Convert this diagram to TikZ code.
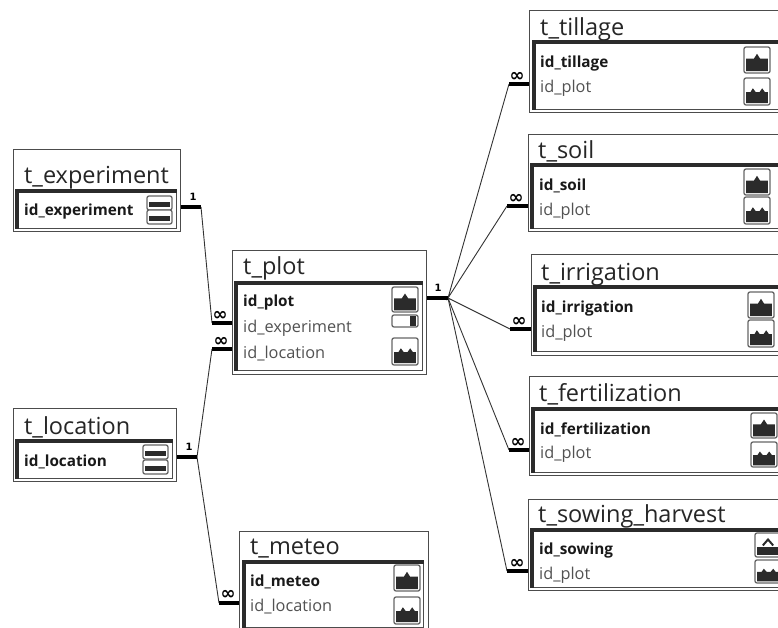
\documentclass[tikz,border=0pt]{standalone}
\usepackage{fontspec}
\setmainfont{Open Sans}
\newfontfamily\symfont{DejaVu Sans}
\definecolor{frame}{gray}{0.3}
\definecolor{panelthick}{gray}{0.17}
\definecolor{iconfill}{gray}{0.17}
\tikzset{
  outerbox/.style={draw=frame,line width=1.3pt,fill=white,anchor=north west,inner sep=0pt},
  panelbox/.style={draw=frame,line width=1pt,fill=white,anchor=north west,inner sep=0pt},
  panelshade/.style={draw=panelthick,line width=3.2pt,line cap=butt},
  titletext/.style={anchor=west,inner sep=0pt,yshift=-2.5pt,font=\fontsize{23.5}{25}\selectfont,text=black!85},
  keytext/.style={anchor=west,inner sep=0pt,yshift=-2pt,font=\fontsize{15.3}{17}\selectfont\bfseries,text=black!90},
  fieldtext/.style={anchor=west,inner sep=0pt,yshift=-1.5pt,font=\fontsize{16.3}{18}\selectfont,text=black!68},
  iconframe/.style={draw=black!60,line width=1.3pt,rounded corners=2pt,fill=white},
  iconmass/.style={fill=iconfill,draw=none},
  thin link/.style={draw=black!80,line width=0.9pt},
  thick link/.style={draw=black,line width=3.4pt,line cap=butt},
  onelabel/.style={inner sep=0pt,font=\symfont\fontsize{10}{10}\selectfont\bfseries},
  manylabel/.style={inner sep=0pt,yshift=-2pt,font=\symfont\fontsize{18}{18}\selectfont\bfseries},
}
\newcommand{\tablebox}[9]{%
  \node[outerbox,minimum width=#4pt,minimum height=#5pt] (#1) at (#2,#3) {};
  \node[panelbox,minimum width=#8pt,minimum height=#9pt] (#1p) at (#6,#7) {};
  \draw[panelshade] (#1p.south west) -- (#1p.north west) -- (#1p.north east);
}
\newcommand{\tabletitle}[4]{\node[titletext] (#1t) at (#2,#3) {#4};}
\newcommand{\rowtext}[5]{\node[#1] (#2) at (#3,#4) {#5};}
\newcommand{\iconone}[4]{\begin{scope}[shift={(#1,#2)},x=#3pt,y=-#4pt]
  \draw[iconframe] (0,0) rectangle (1,1);
  \fill[iconmass] (.08,.93) -- (.08,.45) -- (.38,.45) -- (.5,.26) -- (.62,.45) -- (.92,.45) -- (.92,.93) -- cycle;
\end{scope}}
\newcommand{\icontwo}[4]{\begin{scope}[shift={(#1,#2)},x=#3pt,y=-#4pt]
  \draw[iconframe] (0,0) rectangle (1,1);
  \fill[iconmass] (.08,.93) -- (.08,.52) -- (.25,.52) -- (.34,.38) -- (.45,.52) -- (.6,.52) -- (.7,.38) -- (.8,.52) -- (.92,.52) -- (.92,.93) -- cycle;
\end{scope}}
\newcommand{\iconhat}[4]{\begin{scope}[shift={(#1,#2)},x=#3pt,y=-#4pt]
  \draw[iconframe] (0,0) rectangle (1,1);
  \draw[draw=iconfill,line width=2pt] (.3,.52) -- (.5,.27) -- (.7,.52);
  \fill[iconmass] (.08,.93) -- (.08,.6) -- (.92,.6) -- (.92,.93) -- cycle;
\end{scope}}
\newcommand{\iconflat}[4]{\begin{scope}[shift={(#1,#2)},x=#3pt,y=-#4pt]
  \draw[iconframe] (0,0) rectangle (1,1);
  \fill[iconmass] (.08,.82) -- (.08,.45) -- (.92,.45) -- (.92,.82) -- cycle;
\end{scope}}
\newcommand{\iconbar}[4]{\begin{scope}[shift={(#1,#2)},x=#3pt,y=-#4pt]
  \draw[iconframe] (0,0) rectangle (1,1);
  \fill[iconmass] (.7,.1) rectangle (.93,.9);
\end{scope}}
\begin{document}
\begin{tikzpicture}[x=1pt,y=-1pt]
\useasboundingbox (0,0) rectangle (778,628);
\fill[white] (0,0) rectangle (778,628);

\coordinate (jexp) at (201,207);
\coordinate (jexpm) at (212,323);
\coordinate (jlocm) at (212,349);
\coordinate (jloc) at (197,457);
\coordinate (jmet) at (219,603);
\coordinate (jplot) at (448,298);
\coordinate (jtil) at (509,84);
\coordinate (jsoi) at (507,206);
\coordinate (jirr) at (510,329);
\coordinate (jfer) at (509,450);
\coordinate (jsow) at (507,571);

\tablebox{exp}{13}{149}{167}{82}{17}{191}{159}{37}
\tablebox{plot}{232}{250}{194}{124}{236}{283}{186}{87}
\tablebox{til}{529}{10}{260}{102}{534}{42}{250}{67}
\tablebox{soi}{528}{134}{260}{97}{532}{165}{250}{63}
\tablebox{irr}{531}{254}{260}{101}{535}{287}{250}{64}
\tablebox{fer}{529}{376}{260}{99}{533}{409}{250}{63}
\tablebox{sow}{528}{499}{260}{91}{532}{530}{250}{57}
\tablebox{loc}{13}{408}{163}{73}{17}{441}{155}{37}
\tablebox{met}{239}{531}{189}{110}{244}{562}{179}{65}

\tabletitle{exp}{24}{175}{t\_experiment}
\tabletitle{plot}{243}{266}{t\_plot}
\tabletitle{til}{540}{27}{t\_tillage}
\tabletitle{soi}{538}{149}{t\_soil}
\tabletitle{irr}{541}{272}{t\_irrigation}
\tabletitle{fer}{539}{392}{t\_fertilization}
\tabletitle{sow}{538}{514}{t\_sowing\_harvest}
\tabletitle{loc}{24}{425}{t\_location}
\tabletitle{met}{250}{546}{t\_meteo}

\rowtext{keytext}{expa}{24}{210}{id\_experiment}
\rowtext{keytext}{ploa}{243}{301}{id\_plot}
\rowtext{fieldtext}{plob}{243}{327}{id\_experiment}
\rowtext{fieldtext}{ploc}{243}{352}{id\_location}
\rowtext{keytext}{tila}{540}{62}{id\_tillage}
\rowtext{fieldtext}{tilb}{540}{87}{id\_plot}
\rowtext{keytext}{soia}{539}{184}{id\_soil}
\rowtext{fieldtext}{soib}{539}{210}{id\_plot}
\rowtext{keytext}{irra}{541}{307}{id\_irrigation}
\rowtext{fieldtext}{irrb}{541}{332}{id\_plot}
\rowtext{keytext}{fera}{540}{428}{id\_fertilization}
\rowtext{fieldtext}{ferb}{540}{453}{id\_plot}
\rowtext{keytext}{sowa}{539}{549}{id\_sowing}
\rowtext{fieldtext}{sowb}{539}{574}{id\_plot}
\rowtext{keytext}{loca}{24}{460}{id\_location}
\rowtext{keytext}{meta}{250}{580}{id\_meteo}
\rowtext{fieldtext}{metb}{250}{605}{id\_location}

\iconflat{147}{196}{25}{14}
\iconflat{147}{210}{25}{14}
\iconflat{143}{445}{25}{14}
\iconflat{143}{460}{25}{14}
\iconone{392}{287}{26}{25}
\iconbar{392}{315}{26}{12}
\icontwo{392}{338}{26}{27}
\iconone{744}{47}{26}{26}
\icontwo{744}{78}{26}{27}
\iconone{744}{169}{26}{26}
\icontwo{744}{197}{26}{27}
\iconone{748}{292}{26}{26}
\icontwo{748}{320}{26}{27}
\iconone{751}{413}{26}{25}
\icontwo{751}{442}{26}{25}
\iconhat{755}{533}{26}{24}
\icontwo{755}{560}{26}{23}
\iconone{394}{565}{26}{26}
\icontwo{394}{597}{26}{27}

\draw[thin link] (jexp) -- (jexpm);
\draw[thin link] (jlocm) -- (jloc) -- (jmet);
\draw[thin link] (jtil) -- (jplot) -- (jsoi);
\draw[thin link] (jirr) -- (jplot) -- (jfer);
\draw[thin link] (jplot) -- (jsow);
\draw[thick link] (exp.east |- jexp) -- (jexp);
\draw[thick link] (jexpm) -- (jexpm -| plot.west);
\draw[thick link] (jlocm) -- (jlocm -| plot.west);
\draw[thick link] (loc.east |- jloc) -- (jloc);
\draw[thick link] (jmet) -- (jmet -| met.west);
\draw[thick link] (plot.east |- jplot) -- (jplot);
\draw[thick link] (jtil) -- (jtil -| til.west);
\draw[thick link] (jsoi) -- (jsoi -| soi.west);
\draw[thick link] (jirr) -- (jirr -| irr.west);
\draw[thick link] (jfer) -- (jfer -| fer.west);
\draw[thick link] (jsow) -- (jsow -| sow.west);

\node[onelabel] (l1) at (193,197) {1};
\node[onelabel] (l2) at (189,447) {1};
\node[onelabel] (l3) at (438,288) {1};
\node[manylabel] (m1) at (220,314) {∞};
\node[manylabel] (m2) at (221,340) {∞};
\node[manylabel] (m3) at (228,593) {∞};
\node[manylabel] (m4) at (517,75) {∞};
\node[manylabel] (m5) at (516,197) {∞};
\node[manylabel] (m6) at (519,320) {∞};
\node[manylabel] (m7) at (518,441) {∞};
\node[manylabel] (m8) at (517,562) {∞};
\end{tikzpicture}
\end{document}
